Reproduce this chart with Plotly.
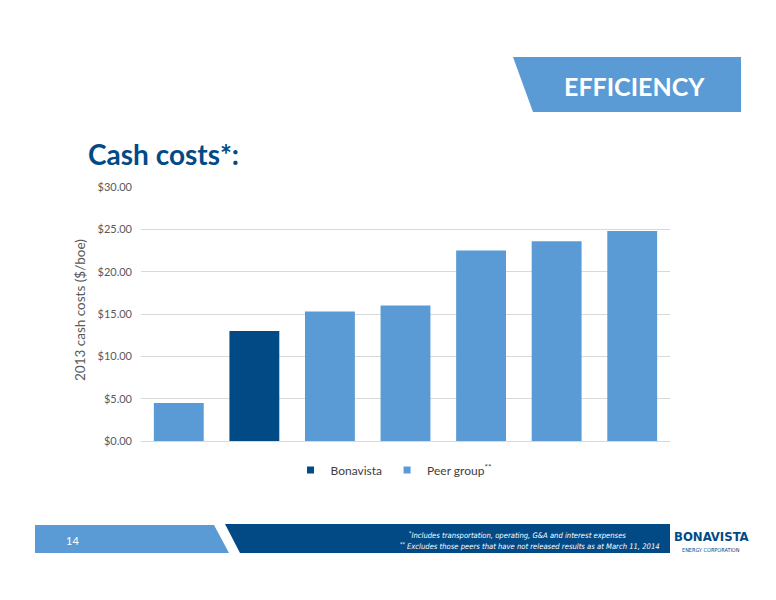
import plotly.graph_objects as go

categories = ["Peer A", "Bonavista", "Peer B", "Peer C", "Peer D", "Peer E", "Peer F"]
bonavista_cats = ["Bonavista"]
bonavista_vals = [13.0]
peer_cats = ["Peer A", "Peer B", "Peer C", "Peer D", "Peer E", "Peer F"]
peer_vals = [4.5, 15.3, 16.0, 22.5, 23.6, 24.8]
y_ticks = [0, 5, 10, 15, 20, 25, 30]

DARK = "#024A86"
LIGHT = "#5B9BD5"
GRAY = "#595959"

# page body has an 8px margin; work in reference-pixel coordinates
OFF = 8
W, H = 776 - OFF, 600 - OFF
L, R, T, B = 141, 670, 187, 441


def px(x):
    return (x - L) / (R - L)


def py(y):
    return (B - y) / (B - T)


fig = go.Figure()
fig.add_trace(go.Bar(x=bonavista_cats, y=bonavista_vals, name="Bonavista",
                     showlegend=False,
                     marker=dict(color=DARK, line=dict(width=0))))
fig.add_trace(go.Bar(x=peer_cats, y=peer_vals, name="Peer group",
                     showlegend=False,
                     marker=dict(color=LIGHT, line=dict(width=0))))
# legend entries with small square swatches
fig.add_trace(go.Scatter(x=[None], y=[None], mode="markers", name="Bonavista",
                         marker=dict(symbol="square", size=7, color=DARK)))
fig.add_trace(go.Scatter(x=[None], y=[None], mode="markers", name="Peer group<sup>**</sup>",
                         marker=dict(symbol="square", size=7, color=LIGHT)))

shapes = []


def poly(pts, color):
    d = "M " + " L ".join(f"{px(x):.5f},{py(y):.5f}" for x, y in pts) + " Z"
    shapes.append(dict(type="path", xref="paper", yref="paper", path=d,
                       fillcolor=color, line=dict(width=0), layer="below"))


# EFFICIENCY banner
poly([(513, 57), (741, 57), (741, 112), (533, 112)], LIGHT)
# footer bands
poly([(35, 525), (214, 525), (229, 553), (35, 553)], LIGHT)
poly([(225, 524), (670, 524), (670, 553), (240, 553)], DARK)

COND = "DejaVu Sans Condensed, Roboto, sans-serif"


def ann(text, x, y, size, color, family="Lato", xanchor="center", angle=0):
    return dict(text=text, x=px(x), y=py(y), xref="paper", yref="paper",
                showarrow=False, font=dict(family=family, size=size, color=color),
                xanchor=xanchor, yanchor="middle", textangle=angle)


annotations = [
    ann("<b>EFFICIENCY</b>", 634, 85.5, 25, "white"),
    ann("<b>Cash costs*:</b>", 86, 154, 28, DARK, xanchor="left"),
    ann("2013 cash costs ($/boe)", 80, 310, 13.5, GRAY, angle=-90),
    ann("14", 72, 540, 11, "white"),
    ann("<i><sup>*</sup>Includes transportation, operating, G&A and interest expenses</i>",
        628, 535, 7.6, "white", family=COND, xanchor="right"),
    ann("<i><sup>**</sup> Excludes those peers that have not released results as at March 11, 2014</i>",
        662, 546, 7.6, "white", family=COND, xanchor="right"),
    ann("<b>BONAVISTA</b>", 711, 536, 13, DARK, family=COND),
    ann("ENERGY CORPORATION", 711, 550, 5.5, DARK, family=COND),
]

fig.update_layout(
    width=W, height=H,
    margin=dict(l=L - OFF, r=W - (R - OFF), t=T - OFF, b=H - (B - OFF), pad=0),
    paper_bgcolor="white", plot_bgcolor="white",
    barmode="overlay", bargap=0.34,
    font=dict(family="Lato", color=GRAY),
    showlegend=True,
    legend=dict(orientation="h", x=px(394), y=py(470), xanchor="center", yanchor="middle",
                font=dict(family="Lato", size=12, color="#404040"), itemwidth=30,
                traceorder="normal", bgcolor="rgba(0,0,0,0)"),
    shapes=shapes,
    annotations=annotations,
)
fig.update_xaxes(categoryorder="array", categoryarray=categories, showticklabels=False,
                 showgrid=False, zeroline=False, showline=False, ticks="",
                 range=[-0.5, 6.5])
fig.update_yaxes(range=[0, 30], tickvals=y_ticks, tickformat="$.2f",
                 tickfont=dict(family="Lato", size=11, color=GRAY),
                 showgrid=True, gridcolor="#D9D9D9", gridwidth=1,
                 zeroline=True, zerolinecolor="#D9D9D9", zerolinewidth=1,
                 ticks="", ticklabelstandoff=8)

fig.write_html("out.html")
